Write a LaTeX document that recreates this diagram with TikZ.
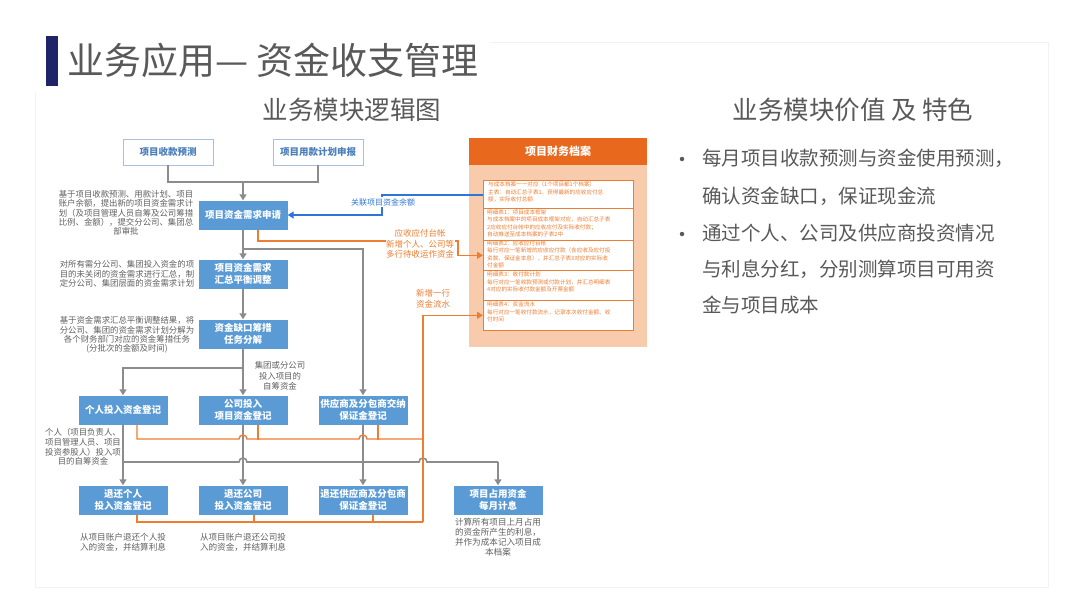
\documentclass[tikz,border=0pt]{standalone}
\usepackage{fontspec}
\setmainfont{Noto Sans CJK SC}
\usetikzlibrary{arrows.meta}
\definecolor{navy}{HTML}{1F2468}
\definecolor{titlegray}{HTML}{595959}
\definecolor{boxblue}{HTML}{5B9BD5}
\definecolor{txtblue}{HTML}{4A7EBB}
\definecolor{edgeblue}{HTML}{A9C0DC}
\definecolor{linegray}{HTML}{8C8C8C}
\definecolor{lineorange}{HTML}{ED7D31}
\definecolor{linkblue}{HTML}{2E75D6}
\definecolor{hdrorange}{HTML}{E8691E}
\definecolor{peach}{HTML}{F9CBAD}
\definecolor{descgray}{HTML}{606060}
\definecolor{framegray}{HTML}{F2F2F2}
\tikzset{
  bluebox/.style={fill=boxblue, text=white, font=\bfseries\fontsize{9.5}{12.5}\selectfont,
    minimum width=89pt, minimum height=29pt, align=center, inner sep=1pt},
  topbox/.style={draw=edgeblue, line width=0.8pt, fill=white, text=txtblue,
    font=\bfseries\fontsize{9.5}{12}\selectfont, minimum width=90pt, minimum height=26pt},
  desc/.style={text=descgray, font=\fontsize{8.4}{9.3}\selectfont, align=center, inner sep=0pt},
  gline/.style={draw=linegray, line width=1.6pt},
  oline/.style={draw=lineorange, line width=1.4pt},
  bline/.style={draw=linkblue, line width=1.4pt},
  tip/.style={-{Triangle[length=6pt,width=7pt]}},
  olabel/.style={text=lineorange, font=\fontsize{8.5}{10.5}\selectfont, align=center, inner sep=0.5pt},
  sectbox/.style={draw=lineorange, line width=0.6pt, fill=white, minimum width=150pt,
    inner sep=0pt, anchor=north west},
  secttext/.style={text=lineorange, font=\fontsize{5.6}{7.4}\selectfont, align=left,
    inner sep=0pt, anchor=north west},
  headtext/.style={text=titlegray, inner sep=0pt},
  bulletdot/.style={circle, fill=titlegray, inner sep=0pt, minimum size=4.5pt},
}
\begin{document}
\begin{tikzpicture}[x=1pt,y=-1pt]
\useasboundingbox (0,0) rectangle (1080,608);
\fill[white] (0,0) rectangle (1080,608);
\draw[framegray, line width=0.8pt] (490,42) -- (1048,42) -- (1048,587) -- (35,587) -- (35,92);

% title
\fill[navy] (46,36) rectangle (58,86);
\node[headtext, anchor=west, font=\fontsize{37}{40}\selectfont] (title) at (67,60) {业务应用— 资金收支管理};
\node[headtext, font=\fontsize{25.5}{30}\selectfont] (sub1) at (352,110) {业务模块逻辑图};
\node[headtext, font=\fontsize{25.5}{30}\selectfont] (sub2) at (853,110) {业务模块价值 及 特色};

% right bullets
\node[bulletdot] (b1) at (682,159) {};
\node[bulletdot] (b2) at (682,234) {};
\begin{scope}[every node/.style={headtext, anchor=west, font=\fontsize{19.5}{22}\selectfont}]
\node (l1) at (702,158) {每月项目收款预测与资金使用预测，};
\node (l2) at (702,196) {确认资金缺口，保证现金流};
\node (l3) at (702,233) {通过个人、公司及供应商投资情况};
\node (l4) at (702,269) {与利息分红，分别测算项目可用资};
\node (l5) at (702,305) {金与项目成本};
\end{scope}

% orange archive panel
\fill[peach] (469,138) rectangle (647,347);
\node[fill=hdrorange, minimum width=178pt, minimum height=27pt, inner sep=0pt, anchor=north west,
  text=white, font=\bfseries\fontsize{11}{13}\selectfont] (hdr) at (469,138) {项目财务档案};
\node[sectbox, minimum height=28pt] (s1) at (483,180) {};
\node[sectbox, minimum height=32pt] (s2) at (483,208) {};
\node[sectbox, minimum height=30pt] (s3) at (483,240) {};
\node[sectbox, minimum height=30pt] (s4) at (483,270) {};
\node[sectbox, minimum height=30pt] (s5) at (483,300) {};
\node[secttext] (t1s) at (488,182) {与成本档案一一对应（1个项目都1个档案）\\主表：自动汇总子表1，获得最新的应收应付总\\额，实际收付总额};
\node[secttext] (t2s) at (487,209.5) {明细表1：项目成本框架\\与成本档案中的项目成本框架对应，自动汇总子表\\2应收应付台帐中的应收应付及实际收付款；\\自动推送至成本档案的子表2中};
\node[secttext] (t3s) at (487,240.5) {明细表2：应收应付台帐\\每行对应一笔新增的应收应付款（含应收及应付投\\资款、保证金本息），并汇总子表3对应的实际收\\付金额};
\node[secttext] (t4s) at (487,272) {明细表3：收付款计划\\每行对应一笔收款预测或付款计划，并汇总明细表\\4对应的实际收付款金额及开票金额};
\node[secttext] (t5s) at (487,302) {明细表4：资金流水\\每行对应一笔收付款流水，记录本次收付金额、收\\付时间};

% top boxes
\node[topbox] (top1) at (168,152) {项目收款预测};
\node[topbox] (top2) at (318,152) {项目用款计划申报};

% main flow boxes
\node[bluebox] (req) at (243,215) {项目资金需求申请};
\node[bluebox] (bal) at (243,274) {项目资金需求\\汇总平衡调整};
\node[bluebox] (gap) at (243,334) {资金缺口筹措\\任务分解};
\node[bluebox] (p1) at (123,410) {个人投入资金登记};
\node[bluebox] (p2) at (243,410) {公司投入\\项目资金登记};
\node[bluebox] (p3) at (363,410) {供应商及分包商交纳\\保证金登记};
\node[bluebox] (r1) at (123,500) {退还个人\\投入资金登记};
\node[bluebox] (r2) at (243,500) {退还公司\\投入资金登记};
\node[bluebox] (r3) at (363,500) {退还供应商及分包商\\保证金登记};
\node[bluebox] (r4) at (498,500) {项目占用资金\\每月计息};

% descriptions
\node[desc] (d1) at (126,213) {基于项目收款预测、用款计划、项目\\账户余额，提出新的项目资金需求计\\划（及项目管理人员自筹及公司筹措\\比例、金额），提交分公司、集团总\\部审批};
\node[desc] (d2) at (127,274) {对所有需分公司、集团投入资金的项\\目的未关闭的资金需求进行汇总，制\\定分公司、集团层面的资金需求计划};
\node[desc] (d3) at (127,335) {基于资金需求汇总平衡调整结果，将\\分公司、集团的资金需求计划分解为\\各个财务部门对应的资金筹措任务\\(分批次的金额及时间)};
\node[desc, font=\fontsize{8.4}{9.8}\selectfont] (d4) at (83,447) {个人（项目负责人、\\项目管理人员、项目\\投资参股人）投入项\\目的自筹资金};
\node[desc, font=\fontsize{8.4}{10.5}\selectfont] (d5) at (280,376) {集团或分公司\\投入项目的\\自筹资金};
\node[desc, font=\fontsize{8.6}{10}\selectfont] (d6) at (123,542) {从项目账户退还个人投\\入的资金，并结算利息};
\node[desc, font=\fontsize{8.6}{10}\selectfont] (d7) at (243,542) {从项目账户退还公司投\\入的资金，并结算利息};
\node[desc, font=\fontsize{8.6}{10}\selectfont] (d8) at (498,537) {计算所有项目上月占用\\的资金所产生的利息，\\并作为成本记入项目成\\本档案};

% gray connectors
\coordinate (j0) at (243,182);
\draw[gline] (top1.south) |- (j0) -| (top2.south);
\draw[gline,tip] (j0) -- (req.north);
\draw[gline,tip] (req.south) -- (bal.north);
\coordinate (j1) at (243,249);
\draw[gline,tip] (j1) -| (p3.north);
\draw[gline,tip] (bal.south) -- (gap.north);
\draw[gline,tip] (gap.south) -- (p2.north);
\coordinate (j2) at (243,368);
\draw[gline,tip] (j2) -| (p1.north);
\draw[gline,tip] (p1.south) -- (r1.north);
\draw[gline,tip] (p2.south) -- (r2.north);
\draw[gline,tip] (p3.south) -- (r3.north);
\coordinate (j3) at (123,462);
\coordinate (j4) at (498,462);
\draw[gline] (j3) -- (239,462) arc[start angle=180,end angle=0,radius=4pt] -- (419,462)
  arc[start angle=180,end angle=0,radius=4pt] -- (j4);
\draw[gline,tip] (j4) -- (r4.north);

% blue connector
\coordinate (bk) at (382,195);
\draw[bline,tip] (s1.west |- bk) -- (bk) |- (req.east);
\node[fill=white, inner sep=1pt, text=linkblue, font=\fontsize{8}{10}\selectfont] (lk) at (383,202) {关联项目资金余额};

% orange connectors
\coordinate (ok) at (458,241);
\draw[oline,tip] ([xshift=15pt]req.south) |- (ok) |- (s3.west);
\node[olabel, fill=white] (ol1) at (420,244) {应收应付台帐\\新增个人、公司等\\多行待收运作资金};
\coordinate (ov1) at (423,439);
\coordinate (ov2) at (423,522);
\draw[oline] ([xshift=14pt]p1.south) |- (239,439) arc[start angle=180,end angle=0,radius=4pt]
  -- (359,439) arc[start angle=180,end angle=0,radius=4pt] -- (ov1);
\draw[oline] ([xshift=15pt]p2.south) -- ++(0,15);
\draw[oline] ([xshift=15pt]p3.south) -- ++(0,15);
\draw[oline] ([xshift=14pt]r1.south) |- (ov2);
\draw[oline] ([xshift=11pt]r2.south) -- ++(0,8);
\draw[oline] ([xshift=10pt]r3.south) -- ++(0,8);
\draw[oline,tip] (ov2) |- (s5.west);
\node[olabel] (ol2) at (433,299) {新增一行\\资金流水};
\end{tikzpicture}
\end{document}
